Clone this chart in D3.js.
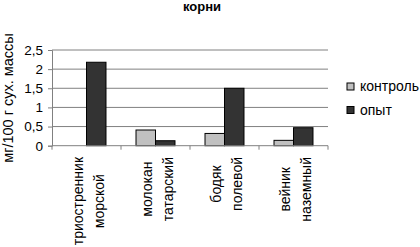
<!DOCTYPE html>
<html>
<head>
<meta charset="utf-8">
<script src="https://cdn.jsdelivr.net/npm/d3@7"></script>
<style>
  body { margin: 0; background: #fff; }
  svg { display: block; font-family: Arial, "Liberation Sans", sans-serif; }
</style>
</head>
<body>
<svg id="chart" width="420" height="247"></svg>
<script>
// data
var categories = [["триостренник", "морской"], ["молокан", "татарский"], ["бодяк", "полевой"], ["вейник", "наземный"]];
var seriesNames = ["контроль", "опыт"];
var control = [0, 0.41, 0.32, 0.14];
var opyt = [2.18, 0.13, 1.5, 0.47];
var yTicks = [0, 0.5, 1, 1.5, 2, 2.5];

var colors = { "контроль": "#c0c0c0", "опыт": "#333333" };

var svg = d3.select("#chart");
var plotLeft = 52, plotRight = 328, plotTop = 50, plotBottom = 145.7;

var catKeys = categories.map(function (c) { return c.join(" "); });
var x0 = d3.scaleBand().domain(catKeys).range([plotLeft, plotRight]).padding(0);
var x1 = d3.scaleBand().domain(seriesNames).range([0, x0.bandwidth()])
  .paddingInner(0).paddingOuter(0.77);
var y = d3.scaleLinear().domain([0, 2.5]).range([plotBottom, plotTop]);

var fmt = function (d) { return String(d).replace(".", ","); };

// gridlines
svg.append("g").selectAll("line").data(yTicks.slice(1)).enter().append("line")
  .attr("x1", plotLeft).attr("x2", plotRight)
  .attr("y1", function (d) { return y(d); }).attr("y2", function (d) { return y(d); })
  .attr("stroke", "#808080").attr("stroke-width", 1);

// y axis
var yAxis = d3.axisLeft(y).tickValues(yTicks).tickFormat(fmt).tickSize(4).tickPadding(5);
var gy = svg.append("g").attr("transform", "translate(" + plotLeft + ",0)").call(yAxis);
gy.select(".domain").attr("stroke", "#808080");
gy.selectAll(".tick line").attr("stroke", "#808080");
gy.selectAll(".tick text").attr("font-size", 13.5).attr("fill", "#000")
  .attr("font-family", "Arial, 'Liberation Sans', sans-serif");

// bars
var rows = catKeys.map(function (k, i) {
  return { key: k, values: [{ s: "контроль", v: control[i] }, { s: "опыт", v: opyt[i] }] };
});
var groups = svg.append("g").selectAll("g").data(rows).enter().append("g")
  .attr("transform", function (d) { return "translate(" + x0(d.key) + ",0)"; });
groups.selectAll("rect").data(function (d) { return d.values.filter(function (e) { return e.v > 0; }); })
  .enter().append("rect")
  .attr("x", function (d) { return x1(d.s); })
  .attr("width", x1.bandwidth())
  .attr("y", function (d) { return y(d.v); })
  .attr("height", function (d) { return y(0) - y(d.v); })
  .attr("fill", function (d) { return colors[d.s]; })
  .attr("stroke", "#000").attr("stroke-width", 1);

// x axis line with boundary ticks
var boundaries = catKeys.map(function (k) { return x0(k); }).concat([plotRight]);
svg.append("line").attr("x1", plotLeft).attr("x2", plotRight).attr("y1", plotBottom).attr("y2", plotBottom)
  .attr("stroke", "#808080");
svg.append("g").selectAll("line").data(boundaries).enter().append("line")
  .attr("x1", function (d) { return d; }).attr("x2", function (d) { return d; })
  .attr("y1", plotBottom).attr("y2", plotBottom + 4).attr("stroke", "#808080");

// category labels, rotated, two lines centred on the longest one
var labelTop = 157;
categories.forEach(function (lines, i) {
  var cx = x0(catKeys[i]) + x0.bandwidth() / 2 + 2.5;
  var g = svg.append("g");
  var texts = g.selectAll("text").data(lines).enter().append("text")
    .attr("font-size", 14).attr("fill", "#000").attr("text-anchor", "middle")
    .text(function (d) { return d; });
  var maxLen = d3.max(texts.nodes(), function (n) { return n.getComputedTextLength(); });
  var cy = labelTop + maxLen / 2;
  texts.attr("transform", function (d, j) {
    var lx = cx + (j - 0.5) * 20.5 + 4.5;
    return "translate(" + lx + "," + cy + ") rotate(-90)";
  });
});

// y axis title
svg.append("text").attr("transform", "translate(13,98) rotate(-90)")
  .attr("text-anchor", "middle").attr("font-size", 14.5).attr("fill", "#000")
  .text("мг/100 г сух. массы");

// title
svg.append("text").attr("x", 202).attr("y", 11).attr("text-anchor", "middle")
  .attr("font-size", 13).attr("font-weight", "bold").attr("fill", "#000")
  .text("корни");

// legend
var legend = svg.append("g").selectAll("g").data(seriesNames).enter().append("g")
  .attr("transform", function (d, i) { return "translate(347," + (86.5 + i * 23.5) + ")"; });
legend.append("rect").attr("x", 0).attr("y", -3.5).attr("width", 7).attr("height", 7)
  .attr("fill", function (d) { return colors[d]; }).attr("stroke", "#000");
legend.append("text").attr("x", 13).attr("y", 4.5).attr("font-size", 14).attr("fill", "#000")
  .text(function (d) { return d; });
</script>
</body>
</html>
